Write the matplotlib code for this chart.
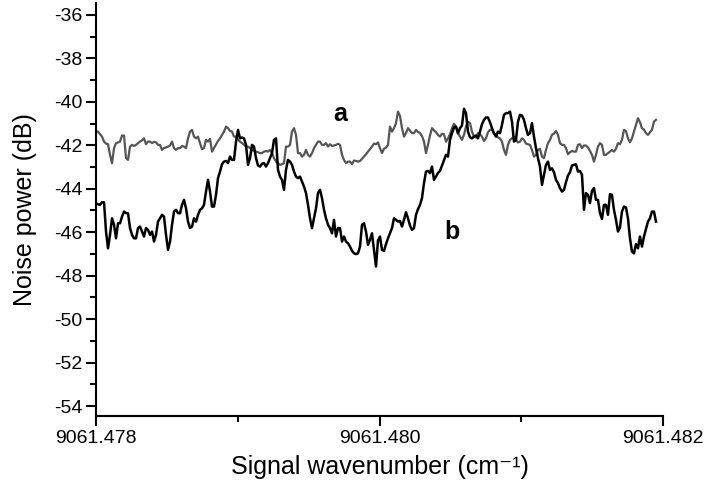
import numpy as np
import matplotlib
matplotlib.use("Agg")
import matplotlib.pyplot as plt
from matplotlib.ticker import MultipleLocator, FixedLocator, FormatStrFormatter

plt.rcParams['font.family'] = ['Liberation Sans', 'DejaVu Sans']

# wavenumber span of the recorded traces (cm^-1)
x_start = 9061.478
x_end = 9061.48195

# trace a (grey), dB -- readings at the main sample positions
noise_a_main = [
    -41.37, -41.49, -41.83, -41.95, -42.83, -41.90, -41.83, -41.55, -42.67, -41.98,
    -41.98, -41.83, -41.68, -41.83, -41.90, -41.86, -41.98, -42.13, -42.06, -41.83,
    -42.21, -42.13, -42.06, -41.68, -41.29, -41.68, -41.90, -42.13, -41.83, -42.29,
    -41.98, -41.68, -41.37, -41.21, -41.37, -41.60, -41.83, -41.98, -42.06, -42.21,
    -42.29, -42.36, -42.29, -42.29, -42.36, -42.75, -42.90, -42.82, -42.06, -41.37,
    -41.52, -42.36, -42.44, -42.44, -42.36, -41.98, -41.83, -41.98, -42.06,
    -42.03, -41.98, -41.98, -42.67, -42.75, -42.87, -42.72, -42.72, -42.52, -42.29,
    -42.06, -41.95, -42.13, -42.16, -41.98, -41.37, -40.98, -40.65, -41.60, -41.21,
    -41.44, -41.29, -41.44, -41.83, -41.98, -41.21, -41.40, -41.60, -41.49,
    -41.68, -41.21, -41.14, -41.60, -41.52, -40.91, -41.37, -41.64, -41.49, -41.80,
    -41.40, -41.29, -41.52, -41.68, -42.21, -41.98, -41.68, -41.75, -41.83, -41.75,
    -41.95, -42.21, -42.44, -42.16, -42.59, -41.90, -41.52, -41.34, -41.90,
    -41.98, -42.41, -42.26, -42.29, -41.95, -42.01, -42.10, -42.44, -42.44, -41.90,
    -42.44, -42.36, -42.21, -42.16, -41.95, -41.29, -41.68, -41.68, -41.06, -40.94,
    -41.28, -41.52, -41.29, -40.83,
]
# trace a -- readings halfway between the main sample positions
noise_a_mid = [
    -41.37, -41.60, -41.92, -42.44, -42.13, -41.87, -41.55, -42.59, -42.06, -42.03,
    -41.90, -41.77, -41.95, -41.83, -41.84, -41.98, -42.21, -42.10, -42.01, -42.13,
    -42.13, -42.03, -42.13, -41.37, -41.60, -41.60, -42.18, -41.75, -41.70,
    -42.13, -41.80, -41.52, -41.14, -41.34, -41.60, -41.75, -41.90, -42.06, -42.13,
    -42.26, -42.32, -42.36, -42.26, -42.21, -42.59, -42.82, -42.87, -42.06, -41.98,
    -41.21, -42.36, -42.52, -42.21, -42.52, -42.13, -41.83, -41.98, -41.90,
    -41.95, -42.01, -41.93, -42.44, -42.82, -42.75, -42.70, -42.75, -42.62, -42.41,
    -42.18, -41.92, -41.87, -42.36, -42.10, -41.14, -41.21, -40.45, -41.21, -41.44,
    -41.32, -41.44, -41.38, -41.57, -42.36, -41.55, -41.31, -41.52, -41.47,
    -41.83, -41.49, -41.01, -41.44, -41.75, -41.14, -40.98, -41.60, -41.44, -41.60,
    -41.68, -41.29, -41.46, -41.64, -41.83, -42.44, -41.75, -41.61, -41.87, -41.68,
    -41.92, -41.98, -42.52, -42.21, -42.52, -42.21, -41.75, -41.46, -41.52,
    -41.98, -42.13, -42.32, -42.29, -41.98, -42.13, -42.01, -42.26, -42.75, -42.06,
    -41.98, -42.44, -42.29, -42.29, -41.90, -41.75, -41.34, -41.86, -41.37, -40.75,
    -41.21, -41.44, -41.40, -40.91,
]

# trace b (black), dB -- readings at the main sample positions
noise_b_main = [
    -44.67, -44.74, -44.62, -46.74, -45.36, -46.28, -45.59, -45.05, -45.13, -46.12,
    -46.28, -45.74, -46.20, -45.89, -45.97, -46.12, -45.36, -45.28, -46.81, -45.66,
    -44.97, -45.13, -44.51, -45.51, -45.74, -45.51, -44.97, -44.74, -43.59, -44.82,
    -44.28, -43.21, -42.75, -42.82, -42.67, -41.83, -41.68, -41.68, -42.90, -41.98,
    -42.59, -42.98, -42.82, -42.82, -42.36, -41.68, -43.44, -44.05, -42.67, -42.90,
    -43.44, -43.44, -43.90, -44.74, -45.81, -44.90, -44.05, -44.97, -45.66,
    -46.05, -46.20, -45.81, -46.20, -46.51, -46.86, -47.01, -46.66, -45.59, -46.58,
    -46.05, -47.58, -46.20, -46.86, -46.28, -45.81, -45.43, -45.48, -45.43, -45.36,
    -45.89, -45.20, -44.74, -43.74, -43.18, -42.98, -43.44, -43.18, -42.67,
    -42.52, -41.44, -41.14, -41.21, -40.32, -41.37, -41.68, -41.55, -41.37, -40.83,
    -40.72, -41.21, -41.60, -41.44, -40.60, -40.52, -40.91, -41.75, -40.60, -40.83,
    -41.52, -40.98, -42.13, -42.98, -43.36, -42.75, -43.06, -43.59, -43.97,
    -44.05, -43.39, -42.93, -42.87, -43.18, -44.97, -44.28, -44.10, -44.51, -45.12,
    -44.74, -45.20, -44.28, -45.43, -45.78, -44.82, -45.36, -46.89, -46.55, -46.20,
    -46.20, -45.51, -45.05, -45.51,
]
# trace b -- readings halfway between the main sample positions
noise_b_mid = [
    -44.71, -44.62, -45.97, -46.12, -45.66, -45.59, -45.28, -45.12, -45.81, -46.28,
    -45.81, -45.97, -45.81, -46.12, -46.43, -45.51, -45.20, -46.12, -46.43, -45.05,
    -45.12, -44.74, -44.90, -45.81, -45.36, -45.20, -44.90, -44.13, -44.13,
    -44.82, -43.51, -42.87, -42.72, -42.52, -42.67, -41.29, -41.64, -41.98, -42.59,
    -42.06, -42.93, -42.85, -42.98, -42.59, -41.75, -43.13, -43.59, -43.13, -42.75,
    -43.21, -43.51, -43.67, -44.20, -45.36, -45.36, -44.20, -44.43, -45.36,
    -45.81, -45.43, -45.81, -46.43, -46.43, -46.66, -46.97, -46.97, -45.66, -45.97,
    -46.35, -46.81, -46.38, -46.81, -46.55, -46.05, -45.36, -45.51, -45.74, -45.08,
    -45.69, -45.81, -44.94, -44.43, -43.21, -43.28, -43.59, -43.27, -42.93,
    -42.44, -41.75, -41.18, -41.44, -41.09, -40.52, -41.63, -41.60, -41.68, -41.03,
    -40.72, -40.94, -41.44, -41.37, -41.06, -40.52, -40.45, -41.83, -40.91, -40.63,
    -41.21, -41.44, -41.60, -42.59, -43.82, -42.90, -43.13, -43.24, -43.74,
    -44.13, -43.70, -43.24, -42.90, -43.21, -43.36, -44.20, -44.66, -43.97, -44.51,
    -45.39, -44.74, -44.25, -44.97, -45.97, -45.05, -44.86, -46.28, -46.97, -46.74,
    -46.66, -45.85, -45.36, -45.05,
]


def merge(main, mid):
    assert len(main) == len(mid) + 1
    out = []
    for m, h in zip(main, mid):
        out += [m, h]
    out.append(main[-1])
    return out


noise_a = merge(noise_a_main, noise_a_mid)
noise_b = merge(noise_b_main, noise_b_mid)
x_a = np.linspace(x_start, x_end, len(noise_a))
x_b = np.linspace(x_start, x_end, len(noise_b))

fig = plt.figure(figsize=(7.05, 4.91), dpi=100)
ax = fig.add_axes([0.1362, 0.1527, 0.8043, 0.8412])

ax.plot(x_a, noise_a, color='#555555', lw=1.6)
ax.plot(x_b, noise_b, color='black', lw=1.8)

ax.set_xlim(9061.478, 9061.482)
ax.set_ylim(-54.46, -35.45)

ax.spines['top'].set_visible(False)
ax.spines['right'].set_visible(False)
for s in ('left', 'bottom'):
    ax.spines[s].set_linewidth(1.5)

ax.xaxis.set_major_locator(FixedLocator([9061.478, 9061.480, 9061.482]))
ax.xaxis.set_minor_locator(FixedLocator([9061.479, 9061.481]))
ax.xaxis.set_major_formatter(FormatStrFormatter('%.3f'))
ax.yaxis.set_major_locator(MultipleLocator(2))
ax.yaxis.set_minor_locator(MultipleLocator(1))
ax.yaxis.set_major_formatter(FormatStrFormatter('%d'))

ax.tick_params(which='major', direction='out', length=7, width=1.5, labelsize=14, pad=3)
ax.tick_params(which='minor', direction='out', length=4.3, width=1.5)

ax.set_xlabel('Signal wavenumber (cm\u207b\u00b9)', fontsize=18, labelpad=6)
ax.set_ylabel('Noise power (dB)', fontsize=18, labelpad=12)

ax.text(9061.47972, -40.55, 'a', fontsize=18, fontweight='bold', ha='center', va='center')
ax.text(9061.48051, -46.0, 'b', fontsize=18, fontweight='bold', ha='center', va='center')

fig.savefig('out.png', dpi=100)
